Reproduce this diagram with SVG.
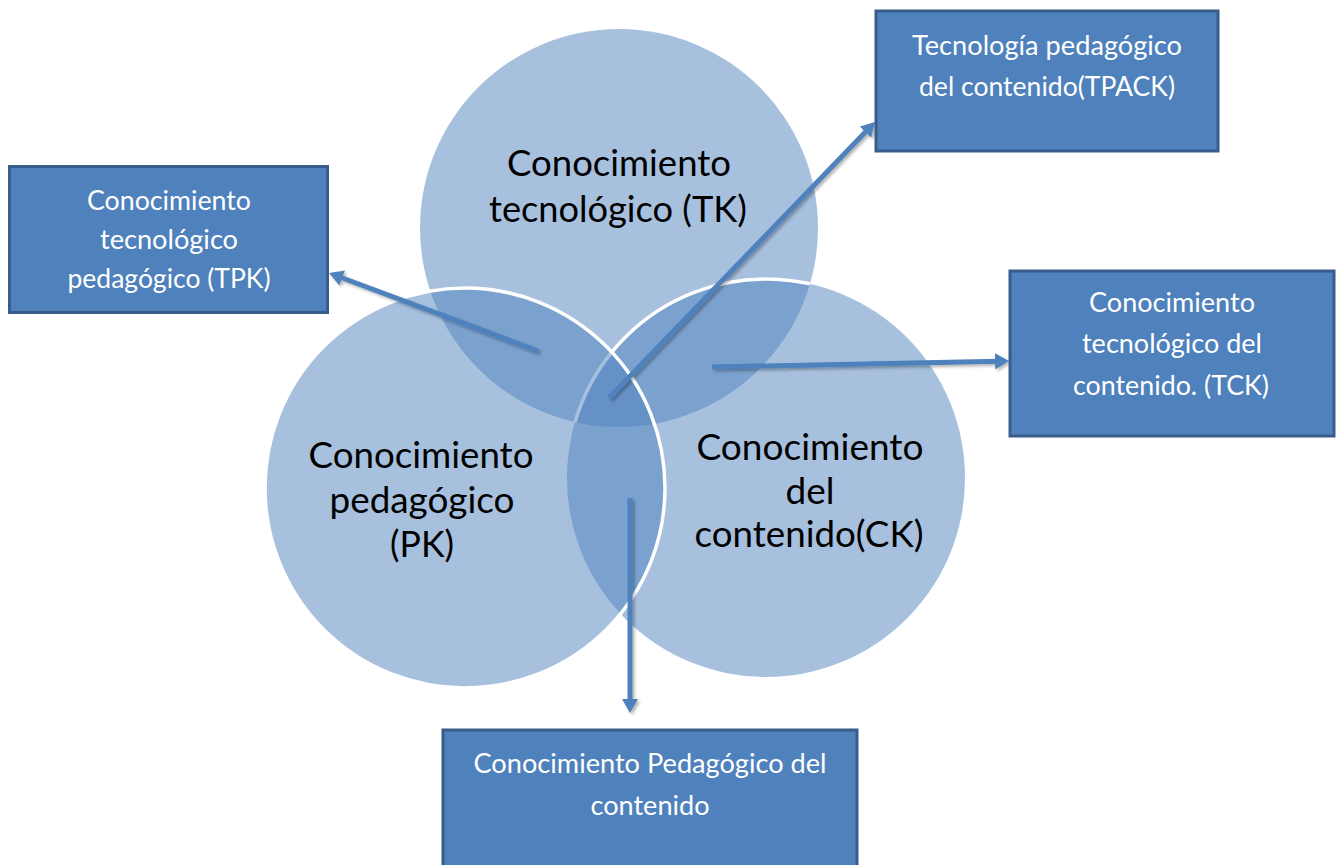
<svg xmlns="http://www.w3.org/2000/svg" width="1336" height="865" viewBox="0 0 1336 865">
<defs>
<style>
.circ{fill:#4F81BD;fill-opacity:0.5}
.ring{fill:none;stroke:#FFFFFF;stroke-width:3.5}
.ctext{font-family:Lato,"Liberation Sans",sans-serif;font-size:36px;fill:#000000;text-anchor:middle}
.box{fill:#4F81BD;stroke:#385D8A;stroke-width:3}
.btext{font-family:Lato,"Liberation Sans",sans-serif;font-size:27px;fill:#FFFFFF;text-anchor:middle}
.conn{stroke:#4F81BD;stroke-width:5;fill:none;marker-end:url(#arr)}
</style>
<marker id="arr" markerUnits="userSpaceOnUse" markerWidth="16" markerHeight="16" viewBox="0 0 16 16" refX="4" refY="8" orient="auto">
<path d="M0,0 L14,8 L0,16 Z" fill="#4F81BD"/>
</marker>
<clipPath id="tkclip"><circle cx="619" cy="228" r="199"/></clipPath>
<filter id="sh" x="-10%" y="-10%" width="130%" height="130%">
<feDropShadow dx="2" dy="2" stdDeviation="1.5" flood-color="#000000" flood-opacity="0.3"/>
</filter>
</defs>
<rect width="1336" height="865" fill="#FFFFFF"/>

<g id="tk">
<circle class="circ" cx="619" cy="228" r="199"/>
<text class="ctext" x="619" y="176" textLength="224" lengthAdjust="spacingAndGlyphs">Conocimiento</text>
<text class="ctext" x="618" y="222" textLength="258" lengthAdjust="spacingAndGlyphs">tecnológico (TK)</text>
</g>

<g id="ck">
<circle class="circ" cx="766" cy="478" r="199"/>
<circle class="ring" cx="766" cy="478" r="199" clip-path="url(#tkclip)"/>
<text class="ctext" x="810" y="460" textLength="227" lengthAdjust="spacingAndGlyphs">Conocimiento</text>
<text class="ctext" x="810" y="504" textLength="49" lengthAdjust="spacingAndGlyphs">del</text>
<text class="ctext" x="809" y="547" textLength="229" lengthAdjust="spacingAndGlyphs">contenido(CK)</text>
</g>

<g id="pk">
<circle class="circ" cx="465" cy="488" r="200"/>
<circle class="ring" cx="465" cy="488" r="200"/>
<text class="ctext" x="421" y="468" textLength="225" lengthAdjust="spacingAndGlyphs">Conocimiento</text>
<text class="ctext" x="422" y="513" textLength="185" lengthAdjust="spacingAndGlyphs">pedagógico</text>
<text class="ctext" x="422" y="557" textLength="64" lengthAdjust="spacingAndGlyphs">(PK)</text>
</g>

<g id="connectors" filter="url(#sh)">
<line class="conn" x1="538" y1="351" x2="338.4" y2="276.5"/>
<line class="conn" x1="609" y1="398" x2="868.1" y2="129.2"/>
<line class="conn" x1="712" y1="367" x2="999" y2="361.2"/>
<line class="conn" x1="630" y1="498" x2="630" y2="703"/>
</g>

<g id="tpk">
<rect class="box" x="9.5" y="166.5" width="318" height="146"/>
<text class="btext" x="169" y="210" textLength="164" lengthAdjust="spacingAndGlyphs">Conocimiento</text>
<text class="btext" x="169" y="249" textLength="138" lengthAdjust="spacingAndGlyphs">tecnológico</text>
<text class="btext" x="169" y="288" textLength="203" lengthAdjust="spacingAndGlyphs">pedagógico (TPK)</text>
</g>

<g id="tpack">
<rect class="box" x="876" y="11" width="342" height="140"/>
<text class="btext" x="1047" y="55" textLength="270" lengthAdjust="spacingAndGlyphs">Tecnología pedagógico</text>
<text class="btext" x="1047" y="96" textLength="256" lengthAdjust="spacingAndGlyphs">del contenido(TPACK)</text>
</g>

<g id="tck">
<rect class="box" x="1010" y="271" width="324" height="165"/>
<text class="btext" x="1172" y="312" textLength="166" lengthAdjust="spacingAndGlyphs">Conocimiento</text>
<text class="btext" x="1172" y="353" textLength="180" lengthAdjust="spacingAndGlyphs">tecnológico del</text>
<text class="btext" x="1171" y="395" textLength="196" lengthAdjust="spacingAndGlyphs">contenido. (TCK)</text>
</g>

<g id="pck">
<rect class="box" x="443" y="730" width="414" height="150"/>
<text class="btext" x="650" y="773" textLength="353" lengthAdjust="spacingAndGlyphs">Conocimiento Pedagógico del</text>
<text class="btext" x="650" y="815" textLength="119" lengthAdjust="spacingAndGlyphs">contenido</text>
</g>
</svg>
